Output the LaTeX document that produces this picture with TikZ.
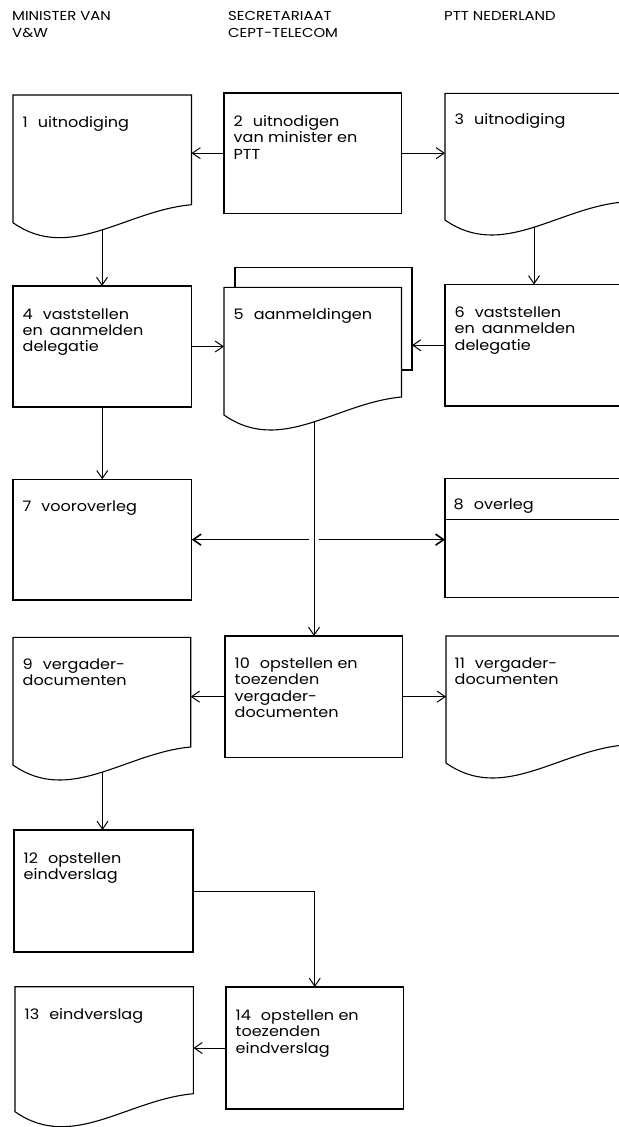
\documentclass[tikz,border=0pt]{standalone}
\usepackage{fontspec}
\setmainfont{Poppins}[FakeStretch=1.11]
\newfontfamily\hdrfont{Poppins}[FakeStretch=1.15]
\usetikzlibrary{arrows.meta,calc}
\newcommand\boxtxt[1]{\begin{tabular}[t]{@{}l@{}}#1\end{tabular}}
\newcommand\numsp{\hspace{10bp}}
\newcommand\wsp{\hspace{7bp}}
\begin{document}
\begin{tikzpicture}[x=1bp,y=-1bp]
\tikzset{
  box/.style={draw, line width=1.1bp, anchor=north west, inner sep=0pt, outer sep=0pt},
  docarea/.style={anchor=north west, inner sep=0pt, outer sep=0pt},
  lbl/.style={anchor=base west, inner sep=0pt, font=\fontsize{14.5}{16.5}\selectfont},
  hdr/.style={anchor=base west, inner sep=0pt, font=\hdrfont\fontsize{13}{16.8}\selectfont},
  outline/.style={line width=1.1bp, line join=miter},
  conn/.style={line width=1bp, -{Straight Barb[length=8bp,width=11bp]}},
  biconn/.style={line width=1.6bp, {Straight Barb[length=8bp,width=11bp]}-{Straight Barb[length=8bp,width=11bp]}}
}
\fill[white] (0,0) rectangle (619,1127);
\useasboundingbox (0,0) rectangle (619,1127);
\clip (0,0) rectangle (619,1127);

% headers
\node[hdr] (h1) at (12,20.5) {\boxtxt{MINISTER VAN\\V\&W}};
\node[hdr] (h2) at (228,20.5) {\boxtxt{SECRETARIAAT\\CEPT-TELECOM}};
\node[hdr] (h3) at (444,20.5) {\boxtxt{PTT NEDERLAND}};

% process boxes
\node[box, minimum width=177.5bp, minimum height=120.3bp] (b2) at (224,93) {};
\node[box, minimum width=178.5bp, minimum height=121bp] (b4) at (13,286) {};
\node[box, minimum width=178bp, minimum height=121.5bp] (b6) at (445,284.5) {};
\node[box, minimum width=178.7bp, minimum height=120.7bp] (b7) at (13,479.3) {};
\node[box, minimum width=178bp, minimum height=119.4bp] (b8) at (445,478.3) {};
\node[box, minimum width=177.7bp, minimum height=121.3bp] (b10) at (225,636) {};
\node[box, minimum width=179bp, minimum height=122bp] (b12) at (14,830) {};
\node[box, minimum width=177.5bp, minimum height=122bp] (b14) at (226,987) {};
\draw[outline] ($(b8.north west)+(0,41)$) -- ($(b8.north east)+(0,41)$);

% document areas
\node[docarea, minimum width=178.5bp, minimum height=127.7bp] (d1) at (13,95) {};
\node[docarea, minimum width=178bp, minimum height=126.7bp] (d3) at (445,93.3) {};
\node[docarea, minimum width=177bp, minimum height=102.3bp] (d5k) at (235,267.7) {};
\node[docarea, minimum width=177.5bp, minimum height=127.7bp] (d5) at (224,287.3) {};
\node[docarea, minimum width=177.7bp, minimum height=127.7bp] (d9) at (13,637.3) {};
\node[docarea, minimum width=178bp, minimum height=127bp] (d11) at (446,636) {};
\node[docarea, minimum width=178.4bp, minimum height=125bp] (d13) at (15,986.7) {};

\foreach \n in {d1,d3,d5,d9,d11,d13}{
  \draw[outline] (\n.south west) -- (\n.north west) -- (\n.north east)
    -- ($(\n.south east)+(0,-18)$)
    .. controls ($(\n.south west)+(112,-12)$) and ($(\n.south west)+(57,40)$) .. (\n.south west) -- cycle;
}
\draw[outline] (d5.north west -| d5k.west) -- (d5k.north west) -- (d5k.north east)
  -- (d5k.south east) -- (d5k.south east -| d5.east);

% labels
\node[lbl] (t1) at ($(d1.north west)+(9.5,32.5)$) {\boxtxt{1\numsp uitnodiging}};
\node[lbl] (t2) at ($(b2.north west)+(9.5,33.5)$) {\boxtxt{2\numsp uitnodigen\\van minister en\\PTT}};
\node[lbl] (t3) at ($(d3.north west)+(9.5,31.5)$) {\boxtxt{3\numsp uitnodiging}};
\node[lbl] (t4) at ($(b4.north west)+(9.5,33)$) {\boxtxt{4\numsp vaststellen\\en\wsp aanmelden\\delegatie}};
\node[lbl] (t5) at ($(d5.north west)+(9.5,32)$) {\boxtxt{5\numsp aanmeldingen}};
\node[lbl] (t6) at ($(b6.north west)+(9.5,33)$) {\boxtxt{6\numsp vaststellen\\en\wsp aanmelden\\delegatie}};
\node[lbl] (t7) at ($(b7.north west)+(9.5,32)$) {\boxtxt{7\numsp vooroverleg}};
\node[lbl] (t8) at ($(b8.north west)+(8.5,31)$) {\boxtxt{8\numsp overleg}};
\node[lbl] (t9) at ($(d9.north west)+(9.5,32)$) {\boxtxt{9\numsp vergader-\\documenten}};
\node[lbl] (t10) at ($(b10.north west)+(9.5,32.5)$) {\boxtxt{10\numsp opstellen en\\toezenden\\vergader-\\documenten}};
\node[lbl] (t11) at ($(d11.north west)+(8.5,32)$) {\boxtxt{11\numsp vergader-\\documenten}};
\node[lbl] (t12) at ($(b12.north west)+(9.5,33)$) {\boxtxt{12\numsp opstellen\\eindverslag}};
\node[lbl] (t13) at ($(d13.north west)+(9.5,33)$) {\boxtxt{13\numsp eindverslag}};
\node[lbl] (t14) at ($(b14.north west)+(9.5,33.5)$) {\boxtxt{14\numsp opstellen en\\toezenden\\eindverslag}};

% connectors
\coordinate (d1o) at ($(d1.south west)+(89,7.2)$);
\coordinate (d3o) at ($(d3.south west)+(89,7.2)$);
\coordinate (d5o) at ($(d5.south west)+(90,7)$);
\coordinate (d9o) at ($(d9.south west)+(89.5,7.2)$);

\draw[conn] (b2.west) -- (b2.west -| d1.east);
\draw[conn] (b2.east) -- (b2.east -| d3.west);
\draw[conn] (d1o) -- (d1o |- b4.north);
\draw[conn] (d3o) -- (d3o |- b6.north);
\draw[conn] (b4.east) -- (b4.east -| d5.west);
\draw[conn] (b6.west) -- (b6.west -| d5k.east);
\draw[conn] (b4.south) -- (b4.south |- b7.north);
\draw[biconn] (b7.east) -- (b7.east -| b8.west);
\fill[white] ($(d5o |- b7.east)+(-5,-3)$) rectangle ($(d5o |- b7.east)+(5,3)$);
\draw[conn] (d5o) -- (d5o |- b10.north);
\draw[conn] (b10.west) -- (b10.west -| d9.east);
\draw[conn] (b10.east) -- (b10.east -| d11.west);
\draw[conn] (d9o) -- (d9o |- b12.north);
\draw[conn] (b12.east) -| (b14.north);
\draw[conn] (b14.west) -- (b14.west -| d13.east);
\end{tikzpicture}
\end{document}
